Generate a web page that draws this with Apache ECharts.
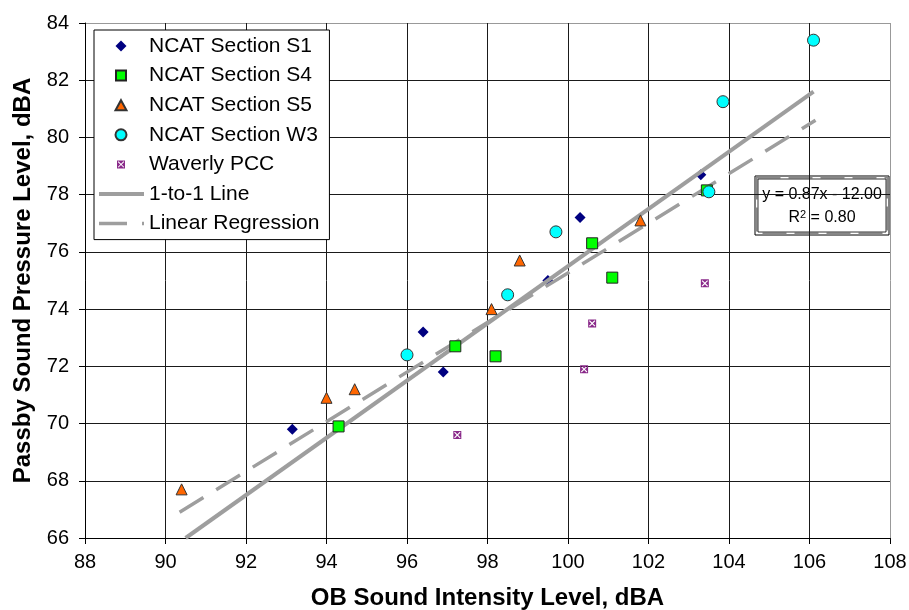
<!DOCTYPE html>
<html>
<head>
<meta charset="utf-8">
<script src="https://cdn.jsdelivr.net/npm/echarts@6/dist/echarts.min.js"></script>
<style>
  html, body { margin: 0; padding: 0; background: #fff; }
  #chart { width: 909px; height: 610px; }
</style>
</head>
<body>
<div id="chart"></div>
<script>
// readings: [OB intensity, passby pressure]
const s1 = [[93.15, 69.8], [96.4, 73.2], [96.9, 71.8], [99.5, 75.0], [100.3, 77.2], [103.3, 78.7]];
const s4 = [[94.3, 69.9], [97.2, 72.7], [98.2, 72.35], [100.6, 76.3], [101.1, 75.1], [103.45, 78.15]];
const s5 = [[90.4, 67.7], [94.0, 70.9], [94.7, 71.2], [98.1, 74.0], [98.8, 75.7], [101.8, 77.1]];
const w3 = [[96.0, 72.4], [98.5, 74.5], [99.7, 76.7], [103.5, 78.1], [103.85, 81.25], [106.1, 83.4]];
const waverly = [[97.25, 69.6], [100.4, 71.9], [100.6, 73.5], [103.4, 74.9]];
const oneToOne = [[90.5, 66.0], [106.1, 81.6]];
const regression = [[90.35, 66.9], [106.15, 80.6]];

const xTicks = { min: 88, max: 108, step: 2 };
const yTicks = { min: 66, max: 84, step: 2 };

const legendNames = ["NCAT Section S1", "NCAT Section S4", "NCAT Section S5", "NCAT Section W3",
  "Waverly PCC", "1-to-1 Line", "Linear Regression"];

const font = "Liberation Sans, Arial, sans-serif";
// square with an X cut out
const xBox = "path://M0,0H10V10H0Z M2,1L1,2L4,5L1,8L2,9L5,6L8,9L9,8L6,5L9,2L8,1L5,4Z";

// legend icons drawn inside a 45x12 box (the leading moves fix the box so the marker keeps its shape)
const box = "path://M0,0M45,12";
const legendIcons = [
  box + "M22,0.5L27.5,6L22,11.5L16.5,6Z",
  box + "M17,1H27V11H17Z",
  box + "M22,1L27.5,11H16.5Z",
  box + "M16.5,6A5.5,5.5 0 1 1 27.5,6A5.5,5.5 0 1 1 16.5,6Z",
  box + "M18,2H26V10H18Z M19.5,2.8L18.8,3.5L21.3,6L18.8,8.5L19.5,9.2L22,6.7L24.5,9.2L25.2,8.5L22.7,6L25.2,3.5L24.5,2.8L22,5.3Z",
];

// last split line (top / right edge) is lighter
function gridColors(n) {
  let c = [];
  for (let i = 0; i < n; i++) c.push(i === n - 1 ? "#999" : "#1a1a1a");
  return c;
}

let myChart = echarts.init(document.getElementById("chart"));
myChart.setOption({
  animation: false,
  backgroundColor: "#fff",
  textStyle: { fontFamily: font },
  grid: { left: 85, right: 19, top: 23, bottom: 72, containLabel: false, outerBoundsMode: "none" },
  xAxis: {
    type: "value",
    min: xTicks.min, max: xTicks.max, interval: xTicks.step,
    name: "OB Sound Intensity Level, dBA",
    nameLocation: "middle",
    nameGap: 48,
    nameTextStyle: { fontSize: 24, fontWeight: "bold", color: "#000", fontFamily: font },
    axisLine: { lineStyle: { color: "#000", width: 1 } },
    axisTick: { show: true, length: 6, lineStyle: { color: "#000" } },
    axisLabel: { fontSize: 20, color: "#000", margin: 14, fontFamily: font },
    splitLine: { show: true, lineStyle: { color: gridColors(11), width: 1 } },
  },
  yAxis: {
    type: "value",
    min: yTicks.min, max: yTicks.max, interval: yTicks.step,
    name: "Passby Sound Pressure Level, dBA",
    nameLocation: "middle",
    nameGap: 46,
    nameTextStyle: { fontSize: 24, fontWeight: "bold", color: "#000", fontFamily: font },
    axisLine: { show: true, lineStyle: { color: "#000", width: 1 } },
    axisTick: { show: true, length: 6, lineStyle: { color: "#000" } },
    axisLabel: { fontSize: 20, color: "#000", margin: 16, fontFamily: font },
    splitLine: { show: true, lineStyle: { color: gridColors(10), width: 1 } },
  },
  legend: {
    orient: "vertical",
    left: 94,
    top: 30,
    padding: [5, 10, 5, 3],
    itemWidth: 45,
    itemHeight: 12,
    itemGap: 7.6,
    backgroundColor: "#fff",
    borderColor: "#000",
    borderWidth: 1,
    borderRadius: 0,
    textStyle: { fontSize: 21, color: "#000", lineHeight: 22, fontFamily: font },
    data: [
      { name: legendNames[0], icon: legendIcons[0] },
      { name: legendNames[1], icon: legendIcons[1] },
      { name: legendNames[2], icon: legendIcons[2] },
      { name: legendNames[3], icon: legendIcons[3] },
      { name: legendNames[4], icon: legendIcons[4] },
      { name: legendNames[5], itemStyle: { opacity: 0 }, lineStyle: { width: 4 } },
      { name: legendNames[6], itemStyle: { opacity: 0 }, lineStyle: { width: 3.5, type: [28, 15] } },
    ],
  },
  series: [
    {
      name: legendNames[0], type: "scatter", data: s1, z: 2,
      symbol: "diamond", symbolSize: 11,
      itemStyle: { color: "#000080", opacity: 1 },
    },
    {
      name: legendNames[5], type: "line", data: oneToOne, z: 3,
      symbol: "none", itemStyle: { color: "rgba(0,0,0,0)" },
      lineStyle: { color: "#9e9e9e", width: 4 },
    },
    {
      name: legendNames[6], type: "line", data: regression, z: 3,
      symbol: "none", itemStyle: { color: "rgba(0,0,0,0)" },
      lineStyle: { color: "#9e9e9e", width: 3.5, type: [28, 15] },
    },
    {
      name: legendNames[1], type: "scatter", data: s4, z: 4,
      symbol: "rect", symbolSize: 11,
      itemStyle: { color: "#00ff00", borderColor: "#222", borderWidth: 1, opacity: 1 },
    },
    {
      name: legendNames[2], type: "scatter", data: s5, z: 4,
      symbol: "triangle", symbolSize: 11,
      itemStyle: { color: "#ff6600", borderColor: "#333", borderWidth: 1, opacity: 1 },
    },
    {
      name: legendNames[3], type: "scatter", data: w3, z: 4,
      symbol: "circle", symbolSize: 12,
      itemStyle: { color: "#00ffff", borderColor: "#333", borderWidth: 1, opacity: 1 },
    },
    {
      name: legendNames[4], type: "scatter", data: waverly, z: 4,
      symbol: xBox, symbolSize: 8,
      itemStyle: { color: "#8a2a8a", opacity: 1 },
    },
  ],
  graphic: [
    {
      type: "group", left: 754, top: 175, z: 10,
      children: [
        { type: "rect", shape: { x: 0, y: 0, width: 134, height: 59 },
          style: { fill: "#fff", stroke: "#000", lineWidth: 1 } },
        { type: "rect", shape: { x: 1.5, y: 1.5, width: 131, height: 56 },
          style: { fill: "none", stroke: "#888", lineWidth: 2, lineDash: [24, 8] } },
        { type: "rect", shape: { x: 3, y: 3, width: 128, height: 53 },
          style: { fill: "#fff", stroke: "#000", lineWidth: 0.8 } },
        { type: "text", x: 67, y: 19,
          style: { text: "y = 0.87x - 12.00", fontSize: 16, fill: "#000", fontFamily: font,
                   align: "center", verticalAlign: "middle" } },
        { type: "text", x: 67, y: 42,
          style: { text: "{a|R}{s|2}{a| = 0.80}", fill: "#000", align: "center", verticalAlign: "middle",
                   rich: { a: { fontSize: 16, fontFamily: font, fill: "#000" },
                           s: { fontSize: 11, fontFamily: font, fill: "#000", verticalAlign: "top", padding: [0, 0, 6, 0] } } } },
      ],
    },
  ],
});
</script>
</body>
</html>
